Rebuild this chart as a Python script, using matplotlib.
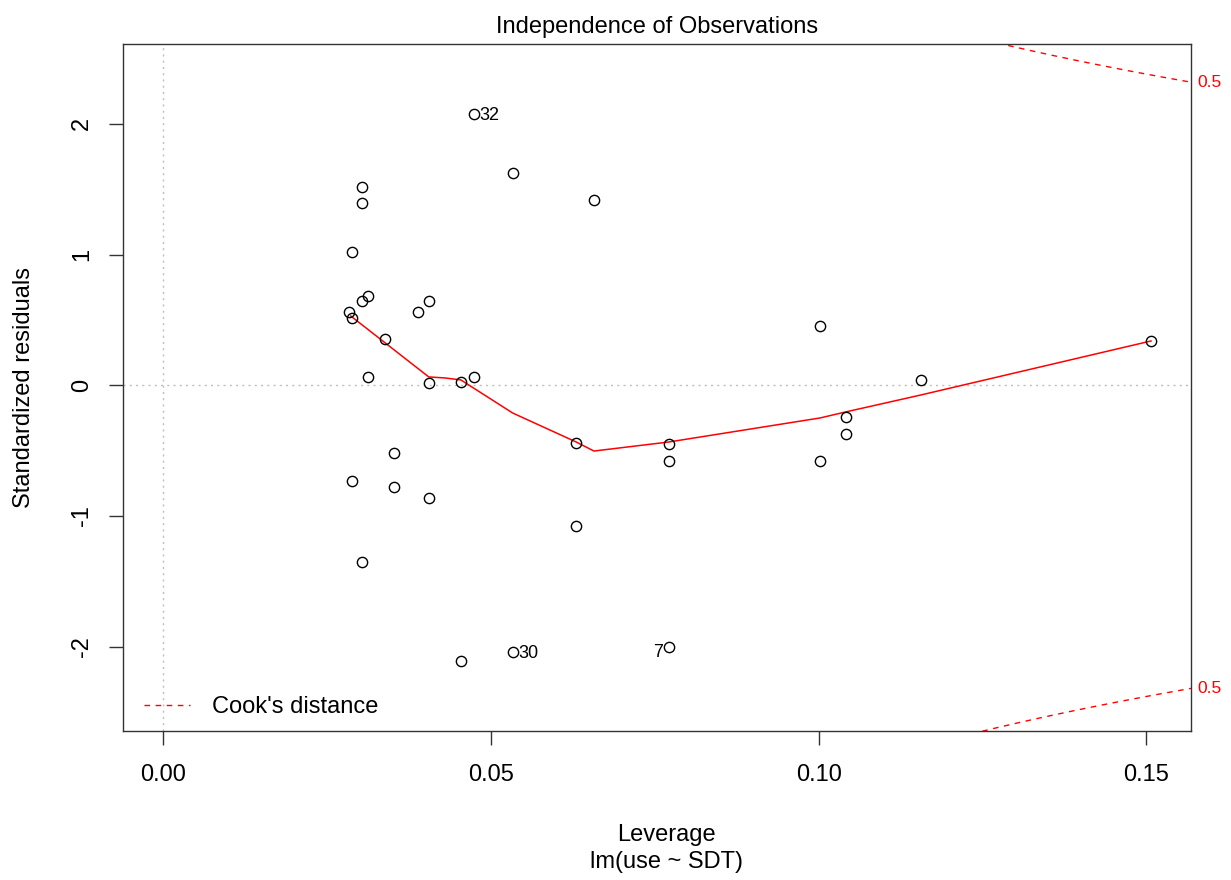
import numpy as np
import matplotlib
matplotlib.use("Agg")
import matplotlib.pyplot as plt

plt.rcParams['font.family'] = ['Liberation Sans', 'DejaVu Sans']

# leverage (hat values) and standardized residuals of lm(use ~ SDT)
leverage = [0.0533, 0.0303, 0.0303, 0.0288, 0.0303, 0.0312, 0.0284, 0.0288,
            0.0389, 0.0405, 0.0338, 0.0312, 0.0405, 0.0454, 0.0474, 0.0352,
            0.0288, 0.0352, 0.0405, 0.0303, 0.0454, 0.0533, 0.0474, 0.0657,
            0.0630, 0.0630, 0.0771, 0.0771, 0.0771, 0.1002, 0.1002, 0.1041,
            0.1041, 0.1507, 0.1156]
std_resid = [1.624, 1.517, 1.395, 1.019, 0.645, 0.683, 0.561, 0.515,
             0.561, 0.645, 0.354, 0.063, 0.017, 0.025, 0.063, -0.518,
             -0.733, -0.778, -0.863, -1.351, -2.109, -2.040, 2.075, 1.418,
             -0.442, -1.077, -0.449, -0.579, -1.999, 0.454, -0.579, -0.242,
             -0.372, 0.339, 0.040]
# observation ids that get a label: (index in arrays, label, side)
id_points = [(22, "32", "right"), (21, "30", "right"), (28, "7", "left")]

# smoother through the points
smooth_lev = [0.0286, 0.0405, 0.0430, 0.0454, 0.0533, 0.0630, 0.0657,
              0.0771, 0.1002, 0.1041, 0.1156, 0.1507]
smooth_res = [0.530, 0.064, 0.056, 0.041, -0.212, -0.434, -0.503,
              -0.434, -0.250, -0.204, -0.074, 0.339]

cook_levels = [0.5]
n_coef = 2

xlim = (-0.0061, 0.1568)
ylim = (-2.645, 2.609)

fig = plt.figure(figsize=(12.31, 8.8), dpi=100)
ax = fig.add_axes([0.1002, 0.1693, 0.8673, 0.7804])

ax.axhline(0, color="#bebebe", lw=1.0, ls=(0, (1.5, 3)), zorder=1)
ax.axvline(0, color="#bebebe", lw=1.0, ls=(0, (1.5, 3)), zorder=1)

ax.plot(leverage, std_resid, "o", mfc="none", mec="black", ms=7.4, mew=1.0, zorder=3)
ax.plot(smooth_lev, smooth_res, color="red", lw=1.1, zorder=2)

# Cook's distance contours
hh = np.linspace(0.0005, xlim[1], 201)
for lev in cook_levels:
    cl = np.sqrt(lev * n_coef * (1 - hh) / hh)
    ax.plot(hh, cl, color="red", lw=1.0, ls=(0, (4, 4)), zorder=2)
    ax.plot(hh, -cl, color="red", lw=1.0, ls=(0, (4, 4)), zorder=2)
    yr = np.sqrt(lev * n_coef * (1 - xlim[1]) / xlim[1])
    for yy in (yr, -yr):
        ax.text(1.006, yy, f"{lev:g}", transform=ax.get_yaxis_transform(),
                color="red", fontsize=12.5, va="center", ha="left", clip_on=False)

for i, lab, side in id_points:
    if side == "right":
        ax.annotate(lab, (leverage[i], std_resid[i]), xytext=(4, -1),
                    textcoords="offset points", ha="left", va="center", fontsize=13)
    else:
        ax.annotate(lab, (leverage[i], std_resid[i]), xytext=(-4, -4),
                    textcoords="offset points", ha="right", va="center", fontsize=13)

ax.set_xlim(*xlim)
ax.set_ylim(*ylim)
ax.set_xticks([0.00, 0.05, 0.10, 0.15])
ax.set_xticklabels(["0.00", "0.05", "0.10", "0.15"])
ax.set_yticks([-2, -1, 0, 1, 2])
ax.set_yticklabels(["-2", "-1", "0", "1", "2"], rotation=90, va="center")
ax.tick_params(axis="both", length=10, width=1.0, color="#333333", labelsize=17)
ax.tick_params(axis="x", pad=14)
ax.tick_params(axis="y", pad=12)
for sp in ax.spines.values():
    sp.set_color("#333333")
    sp.set_linewidth(1.0)

ax.set_title("Independence of Observations", fontsize=17, pad=8)
ax.set_ylabel("Standardized residuals", fontsize=17, labelpad=26)
fig.text(0.5413, 1 - 835 / 880, "Leverage", ha="center", va="center", fontsize=17)
fig.text(0.5413, 1 - 862 / 880, "lm(use ~ SDT)", ha="center", va="center", fontsize=17)

ax.legend([plt.Line2D([], [], color="red", lw=1.0, ls=(0, (4, 4)))],
          ["Cook's distance"], loc="lower left", frameon=False, fontsize=17,
          handlelength=1.95, handletextpad=0.9, bbox_to_anchor=(0.0075, 0.0),
          borderaxespad=0.15)

fig.savefig("out.png", dpi=100)
